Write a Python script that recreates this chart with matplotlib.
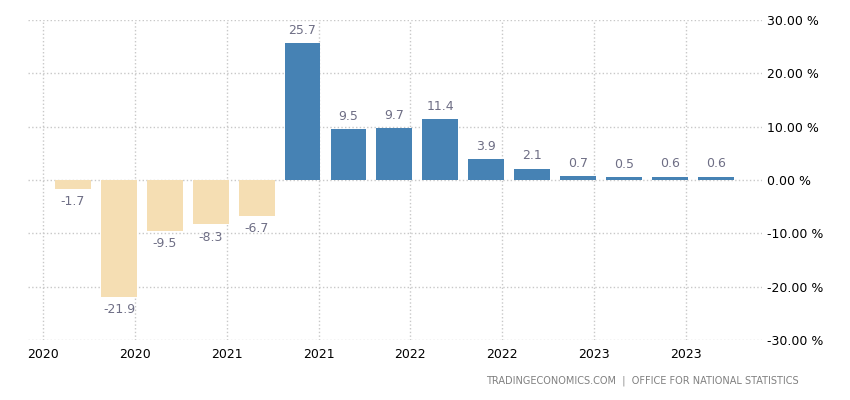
import numpy as np
import matplotlib.pyplot as plt

# Quarterly change, percent
values = [-1.7, -21.9, -9.5, -8.3, -6.7, 25.7, 9.5, 9.7, 11.4, 3.9, 2.1, 0.7, 0.5, 0.6, 0.6]
year_labels = ['2020', '2020', '2021', '2021', '2022', '2022', '2023', '2023']
y_ticks = [-30, -20, -10, 0, 10, 20, 30]

x = np.arange(len(values))
colors = ['#4682b4' if v >= 0 else '#f5deb3' for v in values]

fig = plt.figure(figsize=(8.5, 4), dpi=100)
ax = fig.add_axes([0.033, 0.15, 0.863, 0.80])

ax.bar(x, values, width=0.78, color=colors, zorder=2)

for xi, v in zip(x, values):
    if v >= 0:
        ax.text(xi, v + 1.2, f'{v:.1f}', ha='center', va='bottom', fontsize=9, color='#6e6e85')
    else:
        ax.text(xi, v - 1.2, f'{v:.1f}', ha='center', va='top', fontsize=9, color='#6e6e85')

ax.set_xlim(-0.98, 15.0)
ax.set_ylim(-30, 30)
ax.set_xticks(x[::2] - 0.65)
ax.set_xticklabels(year_labels, fontsize=9)
ax.set_yticks(y_ticks)
ax.set_yticklabels([f'{t:.2f} %' for t in y_ticks], fontsize=9)
ax.yaxis.tick_right()
ax.tick_params(length=0, pad=4)
ax.tick_params(axis='x', pad=6)
for s in ax.spines.values():
    s.set_visible(False)
ax.grid(True, linestyle=':', color='#c8c8c8', linewidth=1, zorder=0)
ax.set_axisbelow(True)

fig.text(0.94, 0.035, 'TRADINGECONOMICS.COM  |  OFFICE FOR NATIONAL STATISTICS',
         ha='right', va='bottom', fontsize=7, color='#808080')

fig.savefig('out.png', dpi=100)
